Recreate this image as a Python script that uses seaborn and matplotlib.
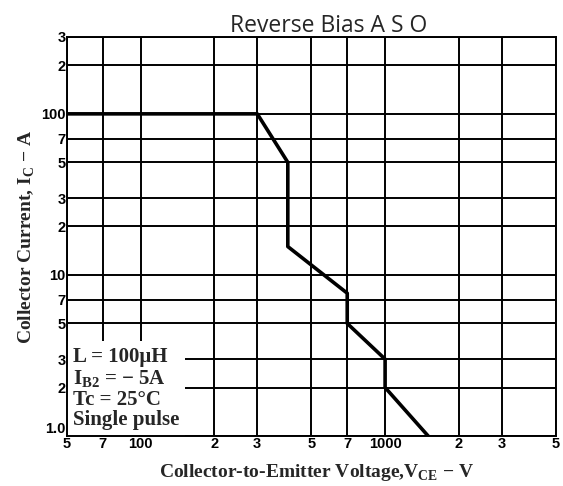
import matplotlib
matplotlib.use("Agg")
import matplotlib.pyplot as plt
import seaborn as sns

# safe operating area boundary (V, A)
vce = [50, 300, 400, 400, 700, 700, 1000, 1000, 1500]
ic = [100, 100, 50, 15, 7.7, 5, 3, 2, 1]

x_ticks = [50, 70, 100, 200, 300, 500, 700, 1000, 2000, 3000, 5000]
x_labels = ["5", "7", "100", "2", "3", "5", "7", "1000", "2", "3", "5"]
y_ticks = [1, 2, 3, 5, 7, 10, 20, 30, 50, 70, 100, 200, 300]
y_labels = ["1.0", "2", "3", "5", "7", "10", "2", "3", "5", "7", "100", "2", "3"]

note = "L = 100\u03bcH\n$\\mathregular{I_{B2}}$ = \u2212 5A\nTc = 25\u00b0C\nSingle pulse"

sns.set_style("white")
plt.rcParams["font.family"] = ["Liberation Sans", "DejaVu Sans"]

fig = plt.figure(figsize=(5.63, 4.86), dpi=100)
ax = fig.add_axes([67 / 563, 1 - 436 / 486, 489 / 563, 399 / 486])

sns.lineplot(x=vce, y=ic, sort=False, estimator=None, color="black",
             linewidth=2.6, ax=ax, zorder=4)

ax.set_xscale("log")
ax.set_yscale("log")
ax.set_xlim(50, 5000)
ax.set_ylim(1, 300)
ax.minorticks_off()
ax.set_xticks(x_ticks)
ax.set_xticklabels(x_labels)
ax.set_yticks(y_ticks)
ax.set_yticklabels(y_labels)
ax.tick_params(length=0, pad=1, labelsize=10.5, labelcolor="black")
for t in ax.get_xticklabels() + ax.get_yticklabels():
    t.set_fontweight("bold")
# lift the "1.0" label a little so it clears the first x label
ax.get_yticklabels()[0].set_verticalalignment("bottom")

ax.set_axisbelow(True)
ax.grid(True, color="black", linewidth=1.4)
for s in ax.spines.values():
    s.set_color("black")
    s.set_linewidth(1.4)
    s.set_zorder(5)

ax.text(0.012, 0.014, note, transform=ax.transAxes, ha="left", va="bottom",
        family="Liberation Serif", fontweight="bold", fontsize=15,
        linespacing=1.05, zorder=3,
        bbox=dict(boxstyle="square,pad=0.3", facecolor="white", edgecolor="none"))

fig.text(329 / 563, 1 - 32 / 486, "Reverse Bias A S O", ha="center", va="baseline",
         family="Open Sans", fontsize=16.5)
fig.text(317 / 563, 1 - 477 / 486,
         "Collector-to-Emitter Voltage,V$_{\\mathregular{CE}}$ \u2212 V",
         ha="center", va="baseline", family="Liberation Serif",
         fontweight="bold", fontsize=14)
fig.text(27 / 563, 1 - 237 / 486, "Collector Current, I$_{\\mathregular{C}}$ \u2212 A",
         ha="center", va="center", rotation=90, family="Liberation Serif",
         fontweight="bold", fontsize=14)

fig.savefig("out.png", dpi=100, facecolor="white")
